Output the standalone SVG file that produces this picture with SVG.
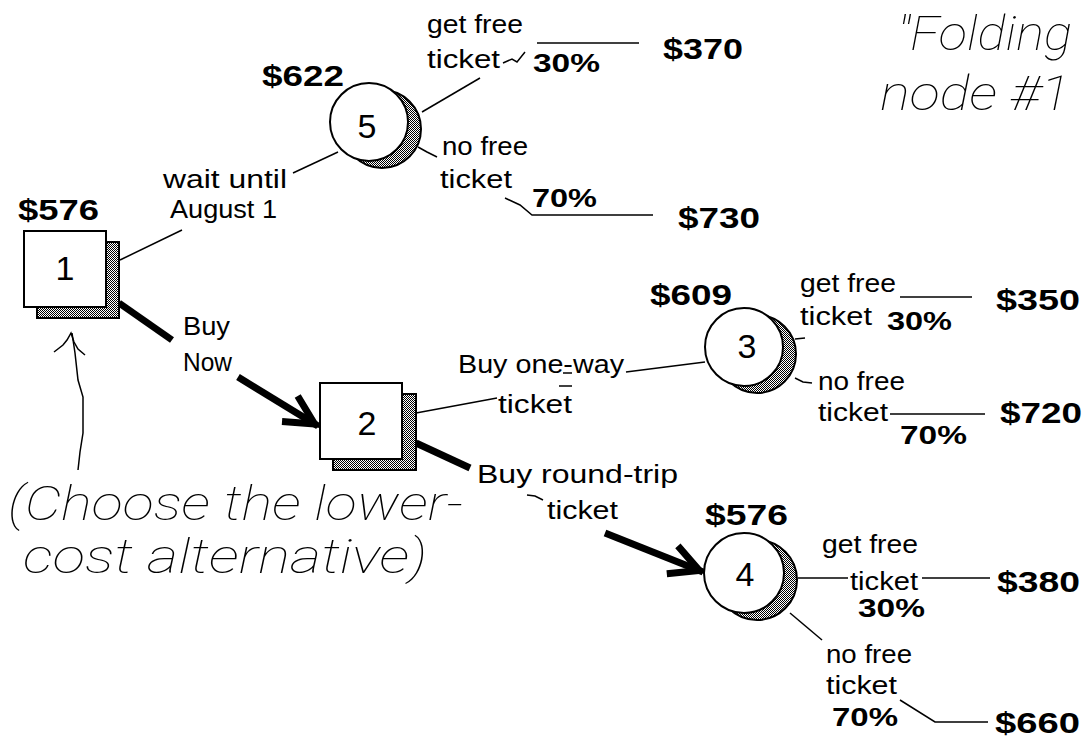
<svg xmlns="http://www.w3.org/2000/svg" width="1083" height="740" viewBox="0 0 1083 740">
  <style>
    .lbl { font-family: "Liberation Sans", Arial, sans-serif; font-size: 25px; fill: #000; }
    .val { font-family: "Liberation Sans", Arial, sans-serif; font-size: 30px; font-weight: bold; fill: #000; }
    .pct { font-family: "Liberation Sans", Arial, sans-serif; font-size: 26px; font-weight: bold; fill: #000; }
    .num { font-family: "Liberation Sans", Arial, sans-serif; font-size: 34px; fill: #000; text-anchor: middle; }
    .note { font-family: Roboto, "Liberation Sans", sans-serif; font-size: 48px; font-style: italic; font-weight: 100; fill: #000; }
    .thin { fill: none; stroke: #000; stroke-width: 1.5; }
    .thick { fill: none; stroke: #000; stroke-width: 7; }
    .box { fill: #fff; stroke: #000; stroke-width: 2; }
    .shadow { fill: url(#stipple); stroke: #000; stroke-width: 2; }
  </style>
  <defs>
    <pattern id="stipple" width="2" height="2" patternUnits="userSpaceOnUse">
      <rect width="2" height="2" fill="#fff"/>
      <rect width="1" height="1" fill="#000"/>
      <rect x="1" y="1" width="1" height="1" fill="#000"/>
    </pattern>
    <marker id="barb" markerUnits="userSpaceOnUse" orient="auto" refX="0" refY="0"
            markerWidth="1" markerHeight="1" overflow="visible">
      <path d="M-33,-15 L-4,0 L-33,15" fill="none" stroke="#000" stroke-width="7"/>
    </marker>
  </defs>

  <rect width="1083" height="740" fill="#fff"/>

  <!-- connectors -->
  <g id="connectors">
    <!-- decision 1 -> chance 5 -->
    <line class="thin" x1="120" y1="260" x2="182" y2="230"/>
    <line class="thin" x1="293" y1="173" x2="338" y2="152"/>
    <!-- decision 1 -> decision 2 (chosen) -->
    <line class="thick" x1="119" y1="303" x2="172" y2="340"/>
    <line class="thick" x1="238" y1="377" x2="318" y2="426" marker-end="url(#barb)"/>
    <!-- decision 2 -> chance 3 -->
    <line class="thin" x1="416" y1="413" x2="497" y2="398"/>
    <line class="thin" x1="626" y1="372" x2="705" y2="362"/>
    <line class="thin" x1="563" y1="373" x2="572" y2="373"/>
    <line class="thin" x1="559" y1="386" x2="572" y2="386"/>
    <!-- decision 2 -> chance 4 (chosen) -->
    <line class="thick" x1="416" y1="443" x2="470" y2="468"/>
    <polyline class="thin" points="527,495 535,496 543,500"/>
    <line class="thick" x1="605" y1="533" x2="703" y2="572" marker-end="url(#barb)"/>
    <!-- chance 5 branches -->
    <line class="thin" x1="422" y1="112" x2="480" y2="78"/>
    <polyline class="thin" points="503,63 512,59 517,62 525,52"/>
    <line class="thin" x1="537" y1="43" x2="639" y2="43"/>
    <polyline class="thin" points="418,147 427,152 437,157"/>
    <polyline class="thin" points="505,198 520,205 532,215 653,215"/>
    <!-- chance 3 branches -->
    <line class="thin" x1="795" y1="339" x2="805" y2="338"/>
    <line class="thin" x1="900" y1="297" x2="972" y2="297"/>
    <polyline class="thin" points="795,378 803,382 812,383"/>
    <line class="thin" x1="890" y1="414" x2="985" y2="414"/>
    <!-- chance 4 branches -->
    <line class="thin" x1="798" y1="578" x2="848" y2="578"/>
    <line class="thin" x1="922" y1="578" x2="990" y2="578"/>
    <line class="thin" x1="790" y1="613" x2="822" y2="640"/>
    <polyline class="thin" points="900,700 935,722 988,722"/>
    <!-- hand-drawn pointer from the note up to decision 1 -->
    <path class="thin" d="M78,470 L80,452 L83,433 L83,397 L78,380 L75,353 L72,333"/>
    <path class="thin" d="M54,352 L63,345 L67,340 L71,333 L74,342 L78,349 L85,355"/>
  </g>

  <!-- decision node 1 -->
  <g id="node1">
    <rect class="shadow" x="37" y="242" width="82" height="76"/>
    <rect class="box" x="24" y="231" width="82" height="76"/>
    <text class="num" x="65" y="280">1</text>
    <text class="val" x="18" y="220" textLength="81" lengthAdjust="spacingAndGlyphs">$576</text>
  </g>

  <!-- decision node 2 -->
  <g id="node2">
    <rect class="shadow" x="333" y="394" width="83" height="76"/>
    <rect class="box" x="320" y="383" width="82" height="76"/>
    <text class="num" x="367" y="435">2</text>
  </g>

  <!-- chance node 5 -->
  <g id="node5">
    <circle class="shadow" cx="382" cy="129" r="39"/>
    <circle class="box" cx="369" cy="122" r="39"/>
    <text class="num" x="367" y="138">5</text>
    <text class="val" x="262" y="86" textLength="82" lengthAdjust="spacingAndGlyphs">$622</text>
  </g>

  <!-- chance node 3 -->
  <g id="node3">
    <circle class="shadow" cx="757" cy="354" r="39"/>
    <circle class="box" cx="744" cy="347" r="39"/>
    <text class="num" x="747" y="358">3</text>
    <text class="val" x="650" y="305" textLength="82" lengthAdjust="spacingAndGlyphs">$609</text>
  </g>

  <!-- chance node 4 -->
  <g id="node4">
    <circle class="shadow" cx="757" cy="580" r="40"/>
    <circle class="box" cx="744" cy="573" r="40"/>
    <text class="num" x="745" y="586">4</text>
    <text class="val" x="705" y="525" textLength="83" lengthAdjust="spacingAndGlyphs">$576</text>
  </g>

  <!-- branch labels -->
  <g id="labels">
    <text class="lbl" x="163" y="188" textLength="124" lengthAdjust="spacingAndGlyphs">wait until</text>
    <text class="lbl" x="170" y="218" textLength="107" lengthAdjust="spacingAndGlyphs">August 1</text>
    <text class="lbl" x="183" y="335" textLength="47" lengthAdjust="spacingAndGlyphs">Buy</text>
    <text class="lbl" x="183" y="371" textLength="49" lengthAdjust="spacingAndGlyphs">Now</text>
    <text class="lbl" x="458" y="373" textLength="166" lengthAdjust="spacingAndGlyphs">Buy one-way</text>
    <text class="lbl" x="498" y="413" textLength="74" lengthAdjust="spacingAndGlyphs">ticket</text>
    <text class="lbl" x="477" y="483" textLength="201" lengthAdjust="spacingAndGlyphs">Buy round-trip</text>
    <text class="lbl" x="547" y="519" textLength="71" lengthAdjust="spacingAndGlyphs">ticket</text>
  </g>

  <!-- outcomes of chance node 5 -->
  <g id="outcomes5">
    <text class="lbl" x="427" y="33" textLength="96" lengthAdjust="spacingAndGlyphs">get free</text>
    <text class="lbl" x="427" y="68" textLength="73" lengthAdjust="spacingAndGlyphs">ticket</text>
    <text class="pct" x="533" y="72" textLength="67" lengthAdjust="spacingAndGlyphs">30%</text>
    <text class="val" x="663" y="59" textLength="80" lengthAdjust="spacingAndGlyphs">$370</text>
    <text class="lbl" x="442" y="155" textLength="86" lengthAdjust="spacingAndGlyphs">no free</text>
    <text class="lbl" x="440" y="188" textLength="72" lengthAdjust="spacingAndGlyphs">ticket</text>
    <text class="pct" x="532" y="207" textLength="65" lengthAdjust="spacingAndGlyphs">70%</text>
    <text class="val" x="678" y="228" textLength="82" lengthAdjust="spacingAndGlyphs">$730</text>
  </g>

  <!-- outcomes of chance node 3 -->
  <g id="outcomes3">
    <text class="lbl" x="800" y="292" textLength="96" lengthAdjust="spacingAndGlyphs">get free</text>
    <text class="lbl" x="800" y="325" textLength="72" lengthAdjust="spacingAndGlyphs">ticket</text>
    <text class="pct" x="887" y="330" textLength="65" lengthAdjust="spacingAndGlyphs">30%</text>
    <text class="val" x="996" y="310" textLength="84" lengthAdjust="spacingAndGlyphs">$350</text>
    <text class="lbl" x="818" y="390" textLength="87" lengthAdjust="spacingAndGlyphs">no free</text>
    <text class="lbl" x="818" y="421" textLength="70" lengthAdjust="spacingAndGlyphs">ticket</text>
    <text class="pct" x="900" y="444" textLength="67" lengthAdjust="spacingAndGlyphs">70%</text>
    <text class="val" x="1000" y="423" textLength="82" lengthAdjust="spacingAndGlyphs">$720</text>
  </g>

  <!-- outcomes of chance node 4 -->
  <g id="outcomes4">
    <text class="lbl" x="822" y="553" textLength="96" lengthAdjust="spacingAndGlyphs">get free</text>
    <text class="lbl" x="850" y="590" textLength="68" lengthAdjust="spacingAndGlyphs">ticket</text>
    <text class="pct" x="858" y="617" textLength="67" lengthAdjust="spacingAndGlyphs">30%</text>
    <text class="val" x="997" y="592" textLength="83" lengthAdjust="spacingAndGlyphs">$380</text>
    <text class="lbl" x="826" y="663" textLength="86" lengthAdjust="spacingAndGlyphs">no free</text>
    <text class="lbl" x="826" y="694" textLength="71" lengthAdjust="spacingAndGlyphs">ticket</text>
    <text class="pct" x="832" y="726" textLength="66" lengthAdjust="spacingAndGlyphs">70%</text>
    <text class="val" x="995" y="733" textLength="85" lengthAdjust="spacingAndGlyphs">$660</text>
  </g>

  <!-- handwritten-style notes -->
  <g id="notes">
    <text class="note" x="8" y="520" textLength="455" lengthAdjust="spacingAndGlyphs">(Choose the lower-</text>
    <text class="note" x="23" y="573" textLength="404" lengthAdjust="spacingAndGlyphs">cost alternative)</text>
    <text class="note" x="897" y="50" textLength="175" lengthAdjust="spacingAndGlyphs">"Folding</text>
    <text class="note" x="880" y="110" textLength="190" lengthAdjust="spacingAndGlyphs">node #1</text>
  </g>
</svg>
